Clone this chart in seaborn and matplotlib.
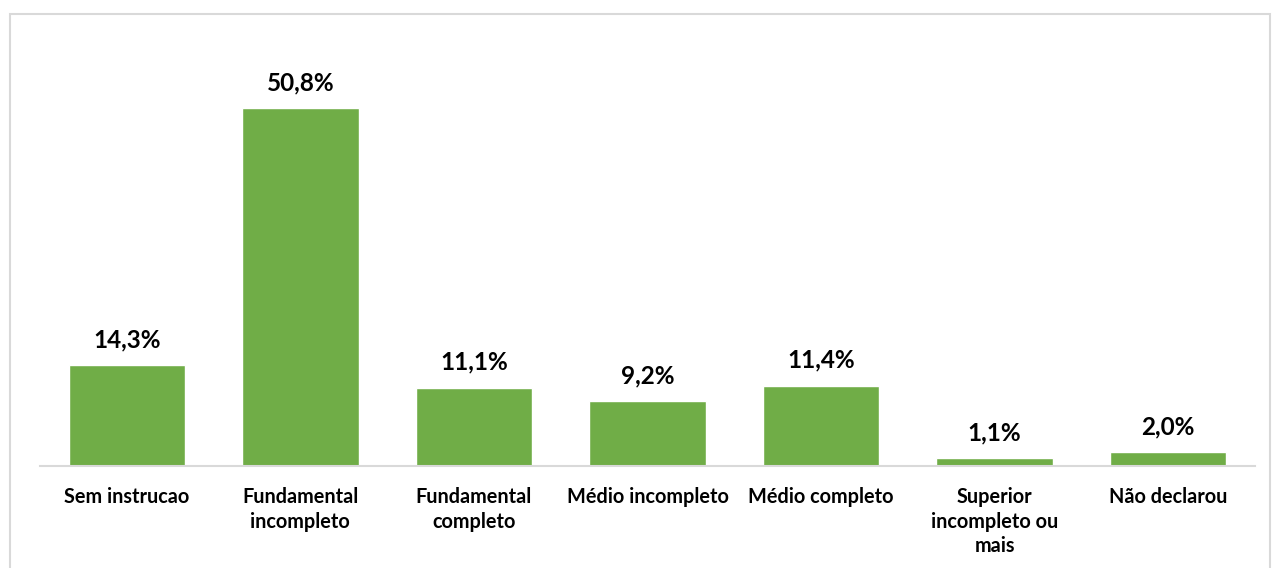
import matplotlib
matplotlib.use("Agg")
import matplotlib.pyplot as plt
import seaborn as sns
import pandas as pd
from matplotlib.patches import Rectangle

categories = ["Sem instrucao", "Fundamental\nincompleto", "Fundamental\ncompleto",
              "Médio incompleto", "Médio completo", "Superior\nincompleto ou\nmais", "Não declarou"]
values = [14.3, 50.8, 11.1, 9.2, 11.4, 1.1, 2.0]
value_labels = ["14,3%", "50,8%", "11,1%", "9,2%", "11,4%", "1,1%", "2,0%"]

sns.set_style("white")
plt.rcParams['font.family'] = ['Lato', 'DejaVu Sans']

df = pd.DataFrame({"cat": categories, "val": values})
W, H = 1272, 568
fig = plt.figure(figsize=(W/100, H/100), dpi=100)
ax = fig.add_axes([40/W, 1-466/H, 1215/W, 423/H])
sns.barplot(data=df, x="cat", y="val", color="#70AD47", saturation=1, width=0.67, ax=ax)
ax.set_xlim(-0.5, 6.5)
ax.set_ylim(0, 60)
for i, (v, lab) in enumerate(zip(values, value_labels)):
    ax.annotate(lab, (i, v), xytext=(0, 10), textcoords="offset points", ha="center", va="bottom",
                fontsize=17.5, fontweight="bold", color="#000000")
ax.set_xlabel("")
ax.set_ylabel("")
ax.set_yticks([])
ax.tick_params(axis="x", length=0, pad=15)
for t in ax.get_xticklabels():
    t.set_fontsize(14.3)
    t.set_fontweight("bold")
    t.set_color("#000000")
    t.set_va("top")
    t.set_linespacing(1.3)
for s in ["top", "left", "right"]:
    ax.spines[s].set_visible(False)
ax.spines["bottom"].set_color("#D9D9D9")
ax.spines["bottom"].set_linewidth(1.5)

fig.patches.append(Rectangle((10/W, -0.05), (1270-10)/W, 1.05-14/H, transform=fig.transFigure,
                             fill=False, edgecolor="#D9D9D9", linewidth=1.5))
fig.savefig("out.png", dpi=100)
